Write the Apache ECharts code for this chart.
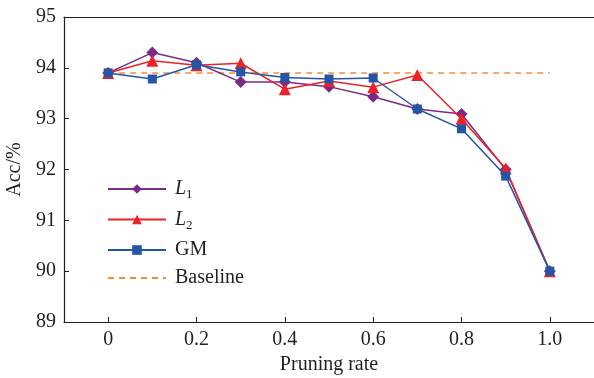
<!DOCTYPE html>
<html>
<head>
<meta charset="utf-8">
<script src="https://cdn.jsdelivr.net/npm/echarts@6/dist/echarts.min.js"></script>
<style>
  html, body { margin: 0; padding: 0; background: #fff; }
  #chart { width: 594px; height: 378px; }
</style>
</head>
<body>
<div id="chart"></div>
<script>
const rates = [0, 0.1, 0.2, 0.3, 0.4, 0.5, 0.6, 0.7, 0.8, 0.9, 1.0];
const accL1 = [93.90, 94.30, 94.10, 93.72, 93.72, 93.63, 93.43, 93.19, 93.09, 92.00, 90.00];
const accL2 = [93.90, 94.14, 94.05, 94.09, 93.58, 93.74, 93.62, 93.86, 93.00, 92.02, 90.00];
const accGM = [93.90, 93.78, 94.06, 93.92, 93.81, 93.78, 93.80, 93.19, 92.80, 91.87, 90.00];
const baselineX = [0, 1.0];
const baselineAcc = 93.9;
const xTicks = [0, 0.2, 0.4, 0.6, 0.8, 1.0];

const font = 'Liberation Serif';
const ink = '#231f20';
const pairs = (ys) => rates.map((r, i) => [r, ys[i]]);

const chart = echarts.init(document.getElementById('chart'));
chart.setOption({
    animation: false,
    textStyle: { fontFamily: font },
    // outerBoundsMode none, otherwise v6 shifts the grid to fit the axis name
    grid: { left: 64, right: 0, top: 17, bottom: 56, outerBoundsMode: 'none' },
    legend: {
        orient: 'vertical',
        left: 107,
        top: 179,
        padding: 0,
        itemWidth: 58,
        itemHeight: 12,
        itemGap: 8,
        data: [
            'L1', 'L2', 'GM',
            { name: 'Baseline', itemStyle: { color: 'rgba(0,0,0,0)', borderWidth: 0, opacity: 0 } }
        ],
        formatter: (name) => {
            if (name === 'L1') return '{i|L}{s|1}';
            if (name === 'L2') return '{i|L}{s|2}';
            return '{n|' + name + '}';
        },
        textStyle: {
            fontFamily: font,
            fontSize: 20,
            color: ink,
            rich: {
                n: { fontFamily: font, fontSize: 20, color: ink, height: 23, padding: [0, 0, 0, 4] },
                i: { fontFamily: font, fontSize: 20, fontStyle: 'italic', color: ink, height: 23, padding: [0, 0, 0, 4] },
                s: { fontFamily: font, fontSize: 13, color: ink, height: 23, verticalAlign: 'bottom', padding: [12, 0, 0, 0] }
            }
        }
    },
    xAxis: [{
        type: 'value',
        min: -0.1,
        max: 1.1,
        name: 'Pruning rate',
        nameLocation: 'middle',
        nameGap: 27,
        nameTextStyle: { fontFamily: font, fontSize: 20, color: ink },
        axisLine: { onZero: false, lineStyle: { color: ink, width: 1.2 } },
        axisTick: { inside: true, length: 5, customValues: xTicks, lineStyle: { color: ink } },
        axisLabel: {
            customValues: xTicks,
            margin: 8,
            fontFamily: font,
            fontSize: 20,
            color: ink,
            formatter: (v) => (v === 0 ? '0' : v.toFixed(1))
        },
        splitLine: { show: false }
    }, {
        type: 'value',
        position: 'top',
        min: -0.1,
        max: 1.1,
        axisLine: { show: true, onZero: false, lineStyle: { color: ink, width: 1.2 } },
        axisTick: { show: false },
        axisLabel: { show: false },
        splitLine: { show: false }
    }],
    yAxis: {
        type: 'value',
        min: 89,
        max: 95,
        interval: 1,
        name: 'Acc/%',
        nameLocation: 'middle',
        nameGap: 36,
        nameTextStyle: { fontFamily: font, fontSize: 20, color: ink },
        axisLine: { show: true, onZero: false, lineStyle: { color: ink, width: 1.2 } },
        axisTick: { inside: true, length: 5, lineStyle: { color: ink } },
        axisLabel: { margin: 8, fontFamily: font, fontSize: 20, color: ink },
        splitLine: { show: false }
    },
    series: [{
        name: 'Baseline',
        type: 'line',
        data: baselineX.map((x) => [x, baselineAcc]),
        symbol: 'none',
        lineStyle: { color: '#f58c3c', width: 1.5, type: [6, 5] },
        itemStyle: { color: '#f58c3c' },
        z: 1
    }, {
        name: 'L1',
        type: 'line',
        data: pairs(accL1),
        symbol: 'diamond',
        symbolSize: 12,
        lineStyle: { color: '#7a2b87', width: 1.5 },
        itemStyle: { color: '#7a2b87' },
        z: 2
    }, {
        name: 'L2',
        type: 'line',
        data: pairs(accL2),
        symbol: 'triangle',
        symbolSize: 12,
        lineStyle: { color: '#ec2227', width: 1.5 },
        itemStyle: { color: '#ec2227' },
        z: 3
    }, {
        name: 'GM',
        type: 'line',
        data: pairs(accGM),
        symbol: 'rect',
        symbolSize: 9,
        lineStyle: { color: '#2456a5', width: 1.5 },
        itemStyle: { color: '#2456a5' },
        z: 4
    }]
});
</script>
</body>
</html>
